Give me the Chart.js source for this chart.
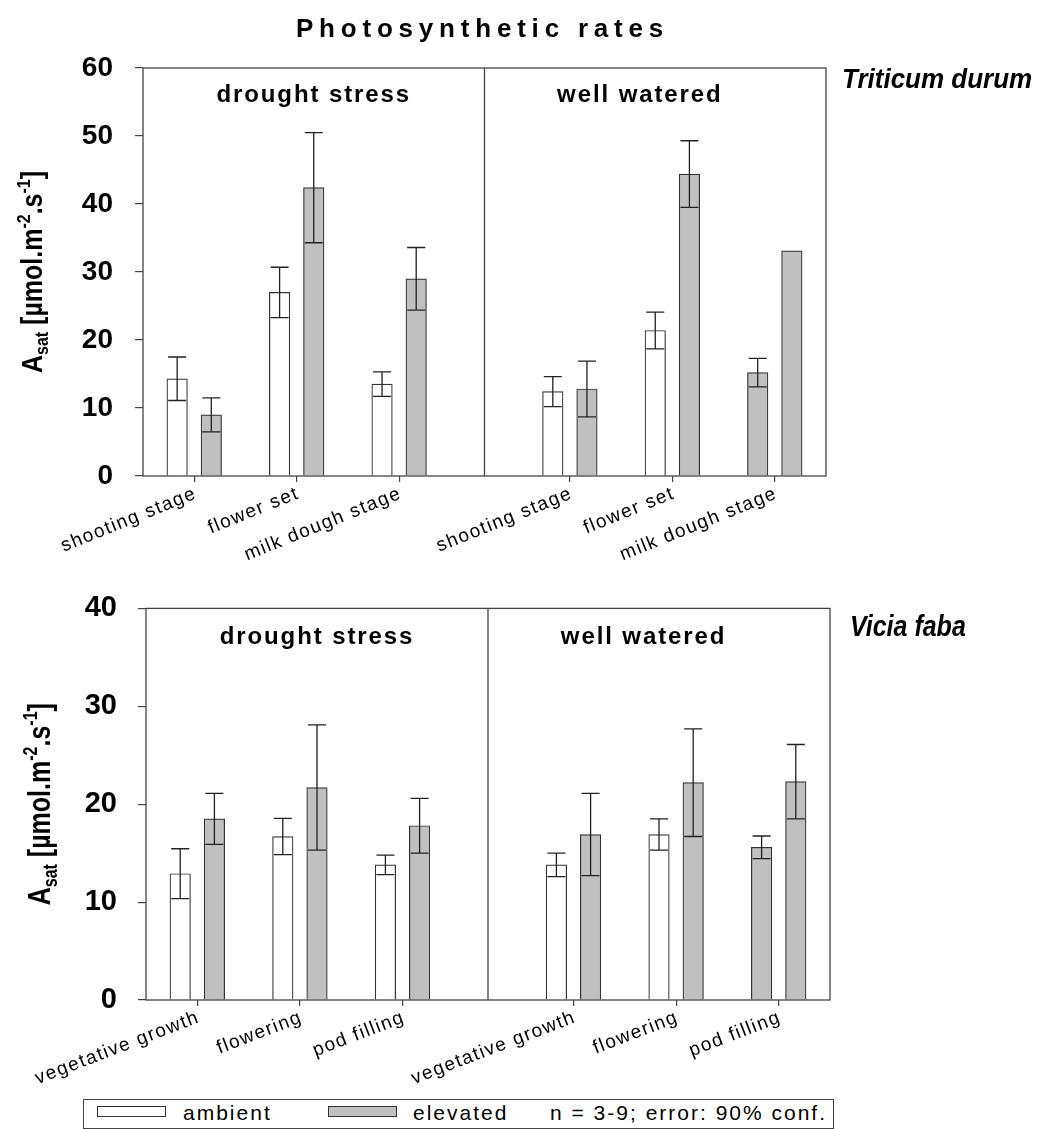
<!DOCTYPE html>
<html>
<head>
<meta charset="utf-8">
<title>Photosynthetic rates</title>
<script src="https://cdn.jsdelivr.net/npm/chart.js@4.4.1/dist/chart.umd.min.js"></script>
<style>
  body { margin: 0; background: #fff; }
  #page { position: relative; width: 1039px; height: 1129px; overflow: hidden; font-family: "Liberation Sans", Arial, sans-serif; }
  canvas { position: absolute; left: 0; }
  .legend-box { position: absolute; left: 83px; top: 1099px; width: 751px; height: 30px; border: 1px solid #444; box-sizing: border-box; }
  .swatch { position: absolute; top: 1106px; width: 69px; height: 11px; border: 1px solid #333; box-sizing: border-box; }
  .legend-text { position: absolute; top: 1102px; font-size: 21px; line-height: 21px; letter-spacing: 2px; color: #000; white-space: nowrap; }
</style>
</head>
<body>
<div id="page">
  <canvas id="wheatChart" width="1039" height="570" style="top:0"></canvas>
  <canvas id="beanChart" width="1039" height="525" style="top:570px"></canvas>
  <div class="legend-box"></div>
  <div class="swatch" style="left:97px;background:#fff"></div>
  <div class="legend-text" style="left:183px">ambient</div>
  <div class="swatch" style="left:328px;background:#c0c0c0"></div>
  <div class="legend-text" style="left:413px">elevated</div>
  <div class="legend-text" style="left:550px">n = 3-9; error: 90% conf.</div>
</div>
<script>
// Tick labels and panel names
const wheatStages = ['shooting stage', 'flower set', 'milk dough stage', 'shooting stage', 'flower set', 'milk dough stage'];
const beanStages = ['vegetative growth', 'flowering', 'pod filling', 'vegetative growth', 'flowering', 'pod filling'];
const panels = ['drought stress', 'well watered'];

// Triticum durum, A_sat (first three = drought stress, last three = well watered)
const wheatAmbient = [14.3, 27.0, 13.5, 12.4, 21.4, 15.2];
const wheatAmbientErr = [3.2, 3.7, 1.8, 2.2, 2.7, 2.1];
const wheatElevated = [9.0, 42.4, 29.0, 12.8, 44.4, 33.1];
const wheatElevatedErr = [2.5, 8.1, 4.6, 4.1, 4.9, null];

// Vicia faba, A_sat
const beanAmbient = [12.9, 16.7, 13.8, 13.8, 16.9, 15.6];
const beanAmbientErr = [2.55, 1.85, 1.0, 1.2, 1.6, 1.15];
const beanElevated = [18.5, 21.7, 17.8, 16.9, 22.2, 22.3];
const beanElevatedErr = [2.6, 6.4, 2.8, 4.2, 5.5, 3.8];

// layout: group centres on a 0..40 x scale, panel split at 20
const slotX = [3, 9, 15, 25, 31, 37];
const panelLabelX = [10, 29.1];
const dividerX = 20;

const FONT = '"Liberation Sans", Arial, Helvetica, sans-serif';
const GRAY = '#c0c0c0';
const LINE = '#444';
// the well watered ambient bar of the last stage is grey in the original
const ambientFill = ['#fff', '#fff', '#fff', '#fff', '#fff', GRAY];

function spacedText(ctx, str, x, y, o) {
    ctx.save();
    ctx.font = o.font;
    ctx.letterSpacing = (o.spacing || 0) + 'px';
    ctx.textAlign = o.align || 'left';
    ctx.textBaseline = o.baseline || 'alphabetic';
    ctx.fillStyle = '#000';
    ctx.translate(x, y);
    if (o.angle) ctx.rotate(o.angle * Math.PI / 180);
    if (o.sy) ctx.scale(1, o.sy);
    ctx.fillText(str, 0, 0);
    ctx.restore();
}

// A_sat [µmol.m-2.s-1] with sub/superscripts, rotated
function drawYTitle(ctx, x, y, size, sy) {
    const big = 'bold ' + size + 'px ' + FONT;
    const small = 'bold ' + Math.round(size * 0.62) + 'px ' + FONT;
    const parts = [['A', big, 0], ['sat', small, 0.22], [' [\u00b5mol.m', big, 0], ['-2', small, -0.42],
                   ['.s', big, 0], ['-1', small, -0.42], [']', big, 0]];
    ctx.save();
    ctx.translate(x, y);
    ctx.rotate(-Math.PI / 2);
    ctx.scale(1, sy);
    ctx.fillStyle = '#000';
    ctx.textAlign = 'left';
    ctx.textBaseline = 'alphabetic';
    let total = 0;
    parts.forEach(p => { ctx.font = p[1]; total += ctx.measureText(p[0]).width; });
    let cx = -total / 2;
    parts.forEach(p => {
        ctx.font = p[1];
        ctx.fillText(p[0], cx, p[2] * size);
        cx += ctx.measureText(p[0]).width;
    });
    ctx.restore();
}

// error bars, frame, divider and all the annotation text
const decorations = {
    id: 'decorations',
    afterDatasetsDraw(chart, args, o) {
        const { ctx, chartArea: a, scales: { x, y } } = chart;

        ctx.save();
        ctx.strokeStyle = '#222';
        ctx.lineWidth = 1.3;
        chart.data.datasets.forEach((ds, di) => {
            chart.getDatasetMeta(di).data.forEach((bar, i) => {
                const e = ds.errors[i];
                if (e == null) return;
                const v = ds.data[i].y;
                const top = y.getPixelForValue(v + e);
                const bot = y.getPixelForValue(v - e);
                ctx.beginPath();
                ctx.moveTo(bar.x, top); ctx.lineTo(bar.x, bot);
                ctx.moveTo(bar.x - 9, top); ctx.lineTo(bar.x + 9, top);
                ctx.moveTo(bar.x - 9, bot); ctx.lineTo(bar.x + 9, bot);
                ctx.stroke();
            });
        });

        ctx.strokeStyle = LINE;
        ctx.lineWidth = 1.3;
        ctx.strokeRect(a.left, a.top, a.right - a.left, a.bottom - a.top);
        const dx = x.getPixelForValue(dividerX);
        ctx.beginPath();
        ctx.moveTo(dx, a.top); ctx.lineTo(dx, a.bottom);
        ctx.stroke();
        ctx.restore();

        if (o.title) {
            spacedText(ctx, o.title, (a.left + a.right) / 2 - 2, 37, { font: 'bold 26px ' + FONT, spacing: 5.8, align: 'center' });
        }

        panels.forEach((p, i) => {
            spacedText(ctx, p, x.getPixelForValue(panelLabelX[i]), a.top + o.panelDy,
                { font: 'bold 24px ' + FONT, spacing: 1.9, align: 'center' });
        });

        spacedText(ctx, o.species, a.right + o.speciesDx, a.top + o.speciesDy,
            { font: 'italic bold ' + o.speciesSize + 'px ' + FONT, sy: o.speciesSy });

        o.stages.forEach((s, i) => {
            spacedText(ctx, s, x.getPixelForValue(slotX[i]) - 2, a.bottom + 8,
                { font: '19px ' + FONT, spacing: 1.5, align: 'right', baseline: 'top', angle: -o.labelAngle });
        });

        drawYTitle(ctx, a.left - o.yTitleGap, (a.top + a.bottom) / 2, 25, o.yTitleSy);
    }
};

function barSet(label, values, errors, fill) {
    return {
        label,
        data: values.map((v, i) => ({ x: slotX[i] + (label === 'ambient' ? -1 : 1), y: v })),
        errors,
        backgroundColor: fill,
        borderColor: '#333',
        borderWidth: 1.2,
        barThickness: 20.5,
        grouped: false
    };
}

function makeChart(id, datasets, yMax, frame, deco) {
    const ctx = document.getElementById(id).getContext('2d');
    return new Chart(ctx, {
        type: 'bar',
        data: { datasets },
        options: {
            responsive: false,
            animation: false,
            layout: { padding: { left: 0, right: frame.right, top: frame.top, bottom: frame.bottom } },
            plugins: { legend: { display: false }, tooltip: { enabled: false }, decorations: deco },
            scales: {
                x: {
                    type: 'linear',
                    min: 0,
                    max: 40,
                    offset: false,
                    border: { display: false },
                    grid: { offset: false, drawOnChartArea: false, tickLength: 6, color: LINE, lineWidth: 1.2 },
                    ticks: { display: false },
                    afterBuildTicks: s => { s.ticks = slotX.map(v => ({ value: v })); },
                    afterFit: s => { s.height = 40; }
                },
                y: {
                    min: 0,
                    max: yMax,
                    border: { display: false },
                    grid: { drawOnChartArea: false, tickLength: 8, color: LINE, lineWidth: 1.2 },
                    ticks: { stepSize: 10, padding: frame.tickPad, color: '#000', font: { family: FONT, size: frame.tickSize, weight: 'bold' } },
                    afterFit: s => { s.width = frame.left; }
                }
            }
        },
        plugins: [decorations]
    });
}

// Triticum durum
const wheatChart = makeChart('wheatChart', [
    barSet('ambient', wheatAmbient, wheatAmbientErr, ambientFill),
    barSet('elevated', wheatElevated, wheatElevatedErr, GRAY)
], 60,
    { left: 143, right: 213, top: 68, bottom: 54, tickPad: 22, tickSize: 28 },
    { title: 'Photosynthetic rates', species: 'Triticum durum', speciesDx: 16, speciesDy: 20, speciesSize: 26, speciesSy: 1.07,
      panelDy: 34, stages: wheatStages, labelAngle: 22, yTitleGap: 101, yTitleSy: 1.15 });

// Vicia faba
const beanChart = makeChart('beanChart', [
    barSet('ambient', beanAmbient, beanAmbientErr, ambientFill),
    barSet('elevated', beanElevated, beanElevatedErr, GRAY)
], 40,
    { left: 146, right: 209, top: 22, bottom: 55, tickPad: 21, tickSize: 29 },
    { title: null, species: 'Vicia faba', speciesDx: 20, speciesDy: 28, speciesSize: 25, speciesSy: 1.2,
      panelDy: 36, stages: beanStages, labelAngle: 21, yTitleGap: 96, yTitleSy: 1.25 });
</script>
</body>
</html>
